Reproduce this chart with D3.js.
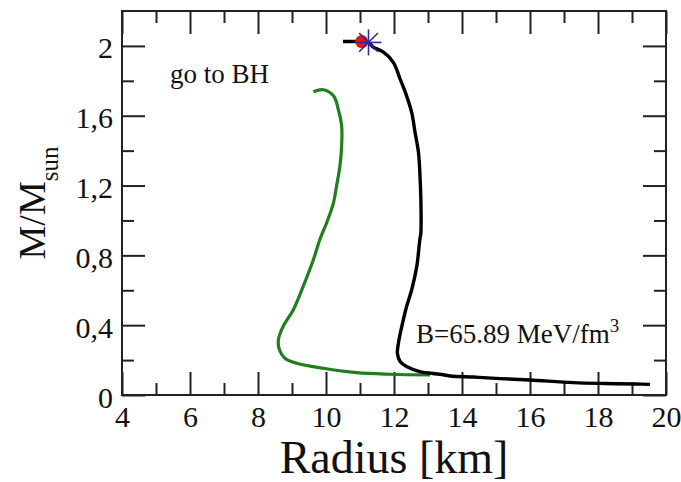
<!DOCTYPE html>
<html>
<head>
<meta charset="utf-8">
<script src="https://cdn.jsdelivr.net/npm/d3@7"></script>
<style>
  html, body { margin: 0; padding: 0; background: #fff; }
  svg { display: block; }
  text { font-family: "Liberation Serif", "Times New Roman", serif; fill: #111; }
</style>
</head>
<body>
<svg id="chart" width="681" height="482"></svg>
<script>
// Mass-radius relation: radius in km, mass in solar masses
const stiffRadius = [10.5, 10.8, 11.05, 11.25, 11.38, 11.69, 11.98, 12.18, 12.37, 12.52, 12.62, 12.72, 12.76, 12.79, 12.79, 12.76, 12.67, 12.52, 12.37, 12.23, 12.13, 12.10, 12.18, 12.37, 12.76, 13.35, 13.65, 14.33, 14.63, 15.12, 16.0, 17.27, 18.2, 19.14, 19.53];
const stiffMass   = [2.025, 2.025, 2.025, 2.02, 1.995, 1.964, 1.906, 1.81, 1.714, 1.619, 1.504, 1.389, 1.274, 1.121, 0.929, 0.891, 0.737, 0.603, 0.507, 0.393, 0.297, 0.239, 0.192, 0.163, 0.134, 0.119, 0.109, 0.103, 0.0996, 0.094, 0.086, 0.071, 0.066, 0.063, 0.061];

const softRadius = [9.63, 9.92, 10.22, 10.36, 10.46, 10.46, 10.41, 10.31, 10.22, 10.02, 9.82, 9.63, 9.33, 9.04, 8.74, 8.60, 8.63, 8.79, 9.14, 9.92, 10.90, 11.88, 13.06];
const softMass   = [1.737, 1.749, 1.714, 1.638, 1.542, 1.427, 1.312, 1.197, 1.101, 0.987, 0.891, 0.776, 0.622, 0.489, 0.393, 0.316, 0.259, 0.211, 0.182, 0.153, 0.128, 0.119, 0.115];

// Maximum-mass configuration and the marked star
const maxMassPoint = [11.05, 2.025];
const starPoint = [11.25, 2.02];

const xMajorTicks = [4, 6, 8, 10, 12, 14, 16, 18, 20];
const xMinorTicks = [5, 7, 9, 11, 13, 15, 17, 19];
const yMajorTicks = [0, 0.4, 0.8, 1.2, 1.6, 2.0];
const yMinorTicks = [0.2, 0.6, 1.0, 1.4, 1.8];

const svg = d3.select("#chart");
const W = 681, H = 482;
const margin = { left: 122, right: 15, top: 11, bottom: 87 };
const x = d3.scaleLinear().domain([4, 20]).range([margin.left, W - margin.right]);
const y = d3.scaleLinear().domain([0, 2.2]).range([H - margin.bottom, margin.top]);

const fmt = d => d3.format(".1~f")(d).replace(".", ",");

// Axes: labelled bottom/left, mirrored tick marks on top/right, all ticks pointing inward
function drawAxis(axisGen, transform, labels) {
  const g = svg.append("g").attr("transform", transform).call(axisGen);
  g.select(".domain").remove();
  g.selectAll(".tick line").attr("stroke", "#222").attr("stroke-width", 2);
  if (!labels) g.selectAll(".tick text").remove();
  return g;
}

const majorLen = 23, minorLen = 12;
const xb = drawAxis(d3.axisBottom(x).tickValues(xMajorTicks).tickSize(-majorLen).tickPadding(11).tickFormat(d3.format("d")),
  `translate(0,${y(0)})`, true);
xb.selectAll(".tick text").attr("font-size", 30).attr("font-family", "Liberation Serif, serif").attr("fill", "#111");
drawAxis(d3.axisBottom(x).tickValues(xMinorTicks).tickSize(-minorLen), `translate(0,${y(0)})`, false);
drawAxis(d3.axisTop(x).tickValues(xMajorTicks).tickSize(-majorLen), `translate(0,${y(2.2)})`, false);
drawAxis(d3.axisTop(x).tickValues(xMinorTicks).tickSize(-minorLen), `translate(0,${y(2.2)})`, false);

const yl = drawAxis(d3.axisLeft(y).tickValues(yMajorTicks).tickSize(-majorLen).tickPadding(9).tickFormat(fmt),
  `translate(${x(4)},0)`, true);
yl.selectAll(".tick text").attr("font-size", 30).attr("font-family", "Liberation Serif, serif").attr("fill", "#111").attr("dy", "0.4em");
drawAxis(d3.axisLeft(y).tickValues(yMinorTicks).tickSize(-minorLen), `translate(${x(4)},0)`, false);
drawAxis(d3.axisRight(y).tickValues(yMajorTicks).tickSize(-majorLen), `translate(${x(20)},0)`, false);
drawAxis(d3.axisRight(y).tickValues(yMinorTicks).tickSize(-minorLen), `translate(${x(20)},0)`, false);

// Frame
svg.append("rect")
  .attr("x", x(4)).attr("y", y(2.2))
  .attr("width", x(20) - x(4)).attr("height", y(0) - y(2.2))
  .attr("fill", "none").attr("stroke", "#222").attr("stroke-width", 2);

// Curves
const line = d3.line().x(d => x(d[0])).y(d => y(d[1])).curve(d3.curveCatmullRom.alpha(0.5));
const soft = softRadius.map((r, i) => [r, softMass[i]]);
const stiff = stiffRadius.map((r, i) => [r, stiffMass[i]]);

svg.append("path").datum(soft).attr("d", line)
  .attr("fill", "none").attr("stroke", "#1f7f1f").attr("stroke-width", 3.2)
  .attr("stroke-linejoin", "round");
svg.append("path").datum(stiff).attr("d", line)
  .attr("fill", "none").attr("stroke", "#000").attr("stroke-width", 3.4)
  .attr("stroke-linejoin", "round");

// Maximum-mass marker
svg.append("circle")
  .attr("cx", x(maxMassPoint[0])).attr("cy", y(maxMassPoint[1])).attr("r", 6.5)
  .attr("fill", "#e31414");

// Star marker
const sx = x(starPoint[0]), sy = y(starPoint[1]), s = 13;
const star = svg.append("g").attr("stroke", "#2a2aa0").attr("stroke-width", 1.6);
[[0, -s, 0, s], [-s, 0, s, 0], [-s * 0.72, -s * 0.72, s * 0.72, s * 0.72], [-s * 0.72, s * 0.72, s * 0.72, -s * 0.72]]
  .forEach(l => star.append("line").attr("x1", sx + l[0]).attr("y1", sy + l[1]).attr("x2", sx + l[2]).attr("y2", sy + l[3]));

// Annotations
svg.append("text").attr("x", 170).attr("y", 83).attr("font-size", 27).text("go to BH");

const bText = svg.append("text").attr("x", 416).attr("y", 343).attr("font-size", 27);
bText.append("tspan").text("B=65.89 MeV/fm");
bText.append("tspan").attr("font-size", 19).attr("dy", -11).text("3");

// Axis titles
svg.append("text")
  .attr("x", (x(4) + x(20)) / 2).attr("y", 473)
  .attr("text-anchor", "middle").attr("font-size", 46)
  .text("Radius [km]");

const yt = svg.append("text")
  .attr("transform", `translate(45,${(y(0) + y(2.2)) / 2}) rotate(-90)`)
  .attr("text-anchor", "middle").attr("font-size", 38);
yt.append("tspan").text("M/M");
yt.append("tspan").attr("font-size", 25).attr("dy", 13).text("sun");
</script>
</body>
</html>
